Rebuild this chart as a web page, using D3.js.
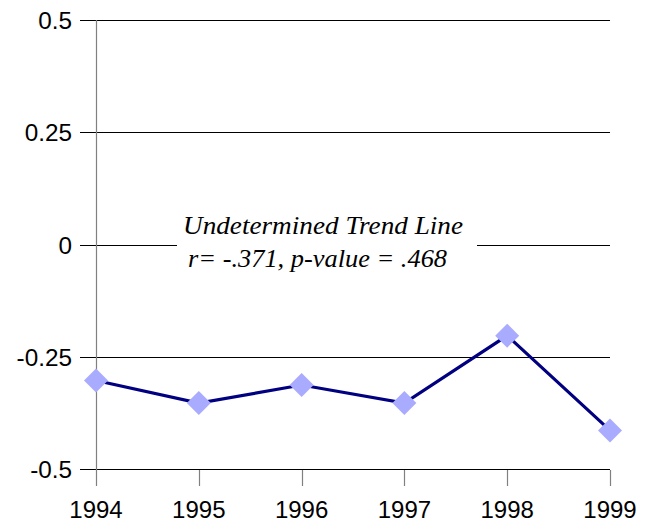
<!DOCTYPE html>
<html><head><meta charset="utf-8">
<script src="https://cdn.jsdelivr.net/npm/d3@7"></script>
<style>body{margin:0;background:#fff}svg{display:block}</style>
</head><body>
<svg id="c" width="653" height="522"></svg>
<script>
const years = [1994, 1995, 1996, 1997, 1998, 1999];
const values = [-0.303, -0.353, -0.313, -0.353, -0.203, -0.414];
const yTicks = [0.5, 0.25, 0, -0.25, -0.5];
const yTickLabels = ["0.5", "0.25", "0", "-0.25", "-0.5"];
const annotation = ["Undetermined Trend Line", "r= -.371, p-value = .468"];

const svg = d3.select("#c");
const x = d3.scaleLinear().domain([1994, 1999]).range([96, 610]);
const y = d3.scaleLinear().domain([-0.5, 0.5]).range([469, 20]);

svg.append("g").selectAll("line").data(yTicks).join("line")
  .attr("x1", 80).attr("x2", 610)
  .attr("y1", d => Math.round(y(d)) + 0.5).attr("y2", d => Math.round(y(d)) + 0.5)
  .attr("stroke", "#000").attr("stroke-width", 1);

svg.append("line").attr("x1", 96.5).attr("x2", 96.5).attr("y1", 20).attr("y2", 486)
  .attr("stroke", "#808080").attr("stroke-width", 1.2);

svg.append("g").selectAll("line").data(years.slice(1)).join("line")
  .attr("x1", d => Math.round(x(d)) + 0.5).attr("x2", d => Math.round(x(d)) + 0.5)
  .attr("y1", 470).attr("y2", 486)
  .attr("stroke", "#808080").attr("stroke-width", 1.2);

svg.append("g").selectAll("text").data(yTicks).join("text")
  .attr("x", 72).attr("y", d => y(d) + 9)
  .attr("text-anchor", "end")
  .attr("font-family", "Liberation Sans, Arial, sans-serif").attr("font-size", 24.3)
  .text((d, i) => yTickLabels[i]);

svg.append("g").selectAll("text").data(years).join("text")
  .attr("x", d => x(d)).attr("y", 518)
  .attr("text-anchor", "middle")
  .attr("font-family", "Liberation Sans, Arial, sans-serif").attr("font-size", 24)
  .text(d => d);

svg.append("rect").attr("x", 177).attr("y", 208).attr("width", 300).attr("height", 68).attr("fill", "#fff");
const annX = [183, 188], annW = [280, 259], annY = [234, 267];
svg.append("g").selectAll("text").data(annotation).join("text")
  .attr("x", (d, i) => annX[i]).attr("y", (d, i) => annY[i])
  .attr("textLength", (d, i) => annW[i]).attr("lengthAdjust", "spacingAndGlyphs")
  .attr("font-family", "Liberation Serif, Times New Roman, serif")
  .attr("font-style", "italic").attr("font-size", 26)
  .text(d => d);

const pts = years.map((yr, i) => [yr, values[i]]);
svg.append("path").datum(pts)
  .attr("d", d3.line().x(d => x(d[0])).y(d => y(d[1])))
  .attr("fill", "none").attr("stroke", "#000080").attr("stroke-width", 3.2);

svg.append("g").selectAll("path").data(pts).join("path")
  .attr("transform", d => `translate(${x(d[0])},${y(d[1])})`)
  .attr("d", "M0,-12L12,0L0,12L-12,0Z")
  .attr("fill", "#a9abff");
</script>
</body></html>
